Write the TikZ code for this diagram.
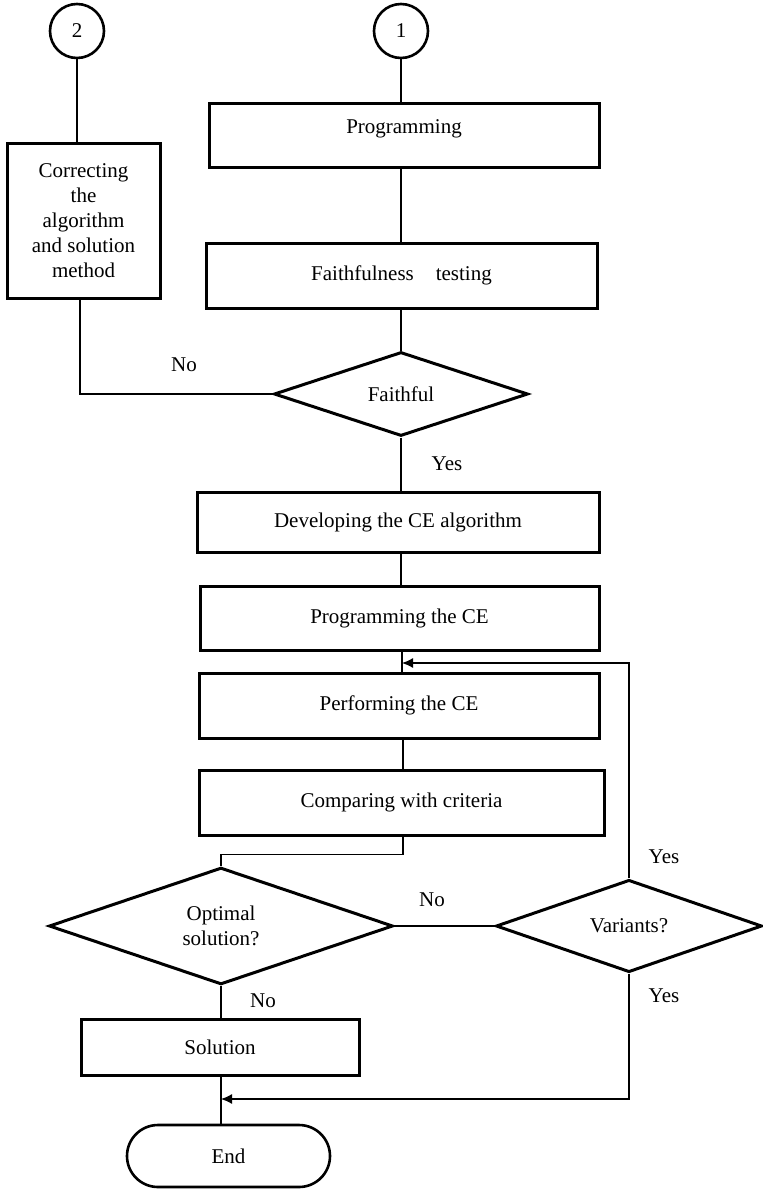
\documentclass[tikz,border=0pt]{standalone}
\usepackage{fontspec}
\setmainfont{Liberation Serif}
\usetikzlibrary{shapes.geometric,arrows.meta,calc}
\begin{document}
\begin{tikzpicture}[x=1pt,y=-1pt,
  every node/.style={font=\fontsize{21}{25}\selectfont},
  procbox/.style={draw, line width=3pt, rectangle, inner sep=0pt, align=center},
  decision/.style={draw, line width=3pt, diamond, inner sep=0pt, align=center},
  connector/.style={draw, line width=2.6pt, circle, inner sep=0pt, minimum size=54pt},
  terminal/.style={draw, line width=2.6pt, rectangle, rounded corners=31pt, inner sep=0pt},
  link/.style={line width=1.2pt},
  flow/.style={line width=1.2pt, -{Latex[length=11pt,width=10pt]}},
  tag/.style={inner sep=0pt}]
\useasboundingbox (0,0) rectangle (763,1189);

% vertical axes of the main column
\coordinate (axisA) at (401,0);
\coordinate (axisB) at (403,0);
\coordinate (axisL) at (80,0);

% off-page connectors
\node[connector] (c2) at (77,31) {2};
\node[connector] (c1) at (401,31) {1};

% process boxes
\node[procbox, minimum width=153pt, minimum height=155pt] (corr) at (83.5,220.5)
  {Correcting\\the\\algorithm\\and solution\\method};
\node[procbox, minimum width=390pt, minimum height=64pt, text height=20pt, text depth=24pt] (prog) at (404,135) {Programming};
\node[procbox, minimum width=391pt, minimum height=65pt] (ftest) at (401.5,275.5) {Faithfulness\hspace*{22pt}testing};
\node[decision, minimum width=254pt, minimum height=84pt] (faith) at (401,394) {Faithful};
\node[procbox, minimum width=402pt, minimum height=60pt] (dev) at (398,522) {Developing the CE algorithm};
\node[procbox, minimum width=399pt, minimum height=64pt] (progce) at (399.5,618) {Programming the CE};
\node[procbox, minimum width=400pt, minimum height=65pt] (perf) at (399,705.5) {Performing the CE};
\node[procbox, minimum width=405pt, minimum height=65pt] (comp) at (401.5,802.5) {Comparing with criteria};
\node[decision, minimum width=344pt, minimum height=116pt] (opt) at (221,926) {Optimal\\solution?};
\node[decision, minimum width=266pt, minimum height=72pt] (var) at (629,926) {Variants?};
\node[procbox, minimum width=278pt, minimum height=56pt] (sol) at (220,1047) {Solution};
\node[terminal, minimum width=203pt, minimum height=62pt] (endn) at (228.5,1156) {End};

% loop-back points on the main line
\coordinate (loopA) at (402,663);
\coordinate (loopB) at (221,1099);

% connectors
\draw[link] (c2.south) -- (c2.south |- corr.north);
\draw[link] (c1.south) -- (c1.south |- prog.north);
\draw[link] (prog.south -| axisA) -- (ftest.north -| axisA);
\draw[link] (ftest.south -| axisA) -- (faith.north);
\draw[link] (corr.south -| axisL) |- (faith.west);
\draw[link] (faith.south) -- (dev.north -| axisA);
\draw[link] (dev.south -| axisA) -- (progce.north -| axisA);
\draw[link] (progce.south -| loopA) -- (perf.north -| loopA);
\draw[link] (perf.south -| axisB) -- (comp.north -| axisB);
\draw[link] (comp.south -| axisB) -- ++(0,18) -| (opt.north);
\draw[link] (opt.east) -- (var.west);
\draw[flow] (var.north) |- (loopA);
\draw[flow] (var.south) |- (loopB);
\draw[link] (opt.south) -- (opt.south |- sol.north);
\draw[link] (sol.south -| opt.south) -- (endn.north -| opt.south);

% branch labels
\node[tag] (lno1) at (184,365) {No};
\node[tag] (lyes1) at (447,464) {Yes};
\node[tag] (lno2) at (432,900) {No};
\node[tag] (lyes2) at (664,857) {Yes};
\node[tag] (lyes3) at (664,996) {Yes};
\node[tag] (lno3) at (263,1001) {No};
\end{tikzpicture}
\end{document}
